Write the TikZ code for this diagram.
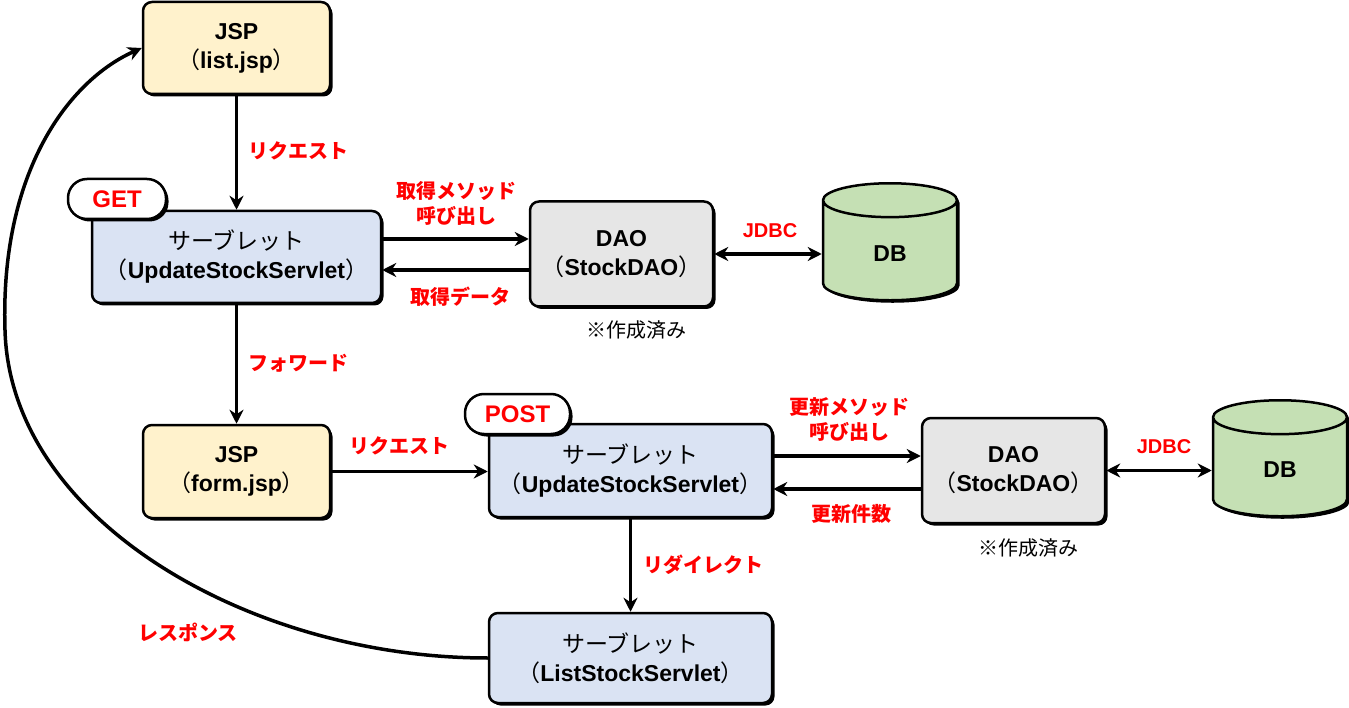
\documentclass[tikz,border=0pt]{standalone}
\usepackage{fontspec}
\setmainfont{Liberation Sans}
\newfontfamily\cjk{Noto Sans CJK JP}
\usetikzlibrary{shapes.geometric,shadows,arrows.meta}
\newcommand\jp[1]{{\cjk\mdseries #1}}
\definecolor{jspfill}{HTML}{FFF2CC}
\definecolor{svfill}{HTML}{DAE3F3}
\definecolor{daofill}{HTML}{E6E6E6}
\definecolor{dbfill}{HTML}{C5E0B4}
\definecolor{lblred}{HTML}{FF0000}
\tikzset{
  shad/.style={drop shadow={shadow xshift=2.5pt,shadow yshift=-2.5pt,fill=black,opacity=1}},
  box/.style={draw, line width=2.5pt, rounded corners=9pt, align=center, shad,
    font=\bfseries\fontsize{23}{29}\selectfont},
  jspbox/.style={box, fill=jspfill, minimum width=187pt, minimum height=92pt},
  svbox/.style={box, fill=svfill, minimum height=92pt},
  daobox/.style={box, fill=daofill, minimum width=183pt, minimum height=105pt},
  dbbox/.style={cylinder, shape border rotate=90, aspect=0.85, draw, line width=2.5pt, fill=dbfill, shad,
    minimum width=134pt, minimum height=117pt, font=\bfseries\fontsize{23}{28}\selectfont},
  pill/.style={draw, line width=2.5pt, fill=white, rounded corners=19pt, shad, text=lblred,
    minimum height=40pt, font=\bfseries\fontsize{24}{28}\selectfont},
  lab/.style={text=lblred, align=center, inner sep=0pt, font=\cjk\bfseries\fontsize{20}{25}\selectfont},
  latlab/.style={text=lblred, inner sep=0pt, font=\bfseries\fontsize{20}{24}\selectfont},
  note/.style={inner sep=0pt, font=\cjk\fontsize{20}{24}\selectfont},
  arr/.style={line width=3.5pt, -{Stealth[length=14pt,width=14pt,inset=4.5pt]}},
  dbl/.style={line width=3.5pt, {Stealth[length=14pt,width=14pt,inset=4.5pt]}-{Stealth[length=14pt,width=14pt,inset=4.5pt]}},
}
\begin{document}
\begin{tikzpicture}[x=1pt,y=-1pt]
\useasboundingbox (0,0) rectangle (1349,708);
% nodes
\node[jspbox] (listjsp) at (236.5,48) {JSP\\{\jp （}list.jsp{\jp ）}};
\node[svbox, minimum width=289pt] (getsv) at (236.5,257) {\jp{サーブレット}\\{\jp （}UpdateStockServlet{\jp ）}};
\node[pill, minimum width=98pt] (getpill) at (117,199) {GET};
\node[daobox] (dao1) at (621.5,254) {DAO\\{\jp （}StockDAO{\jp ）}};
\node[dbbox] (db1) at (890,253.5) {DB};
\node[jspbox, minimum height=93pt] (formjsp) at (236.5,471.5) {JSP\\{\jp （}form.jsp{\jp ）}};
\node[svbox, minimum width=283pt, minimum height=93pt] (postsv) at (630.5,470.5) {\jp{サーブレット}\\{\jp （}UpdateStockServlet{\jp ）}};
\node[pill, minimum width=105pt] (postpill) at (517.5,414) {POST};
\node[daobox] (dao2) at (1013.5,470.5) {DAO\\{\jp （}StockDAO{\jp ）}};
\node[dbbox, minimum height=116pt] (db2) at (1280,470) {DB};
\node[svbox, minimum width=283pt, minimum height=90pt] (listsv) at (630.5,658) {\jp{サーブレット}\\{\jp （}ListStockServlet{\jp ）}};
% connectors
\draw[arr] (listjsp.south) -- (getsv.north);
\path ([yshift=15pt]dao1.west) coordinate (g1) ([yshift=-16pt]dao1.west) coordinate (g2);
\draw[arr] (getsv.east |- g1) -- (g1);
\draw[arr] (g2) -- (getsv.east |- g2);
\draw[dbl] (dao1.east) -- (db1.west |- dao1.east);
\draw[arr] (getsv.south) -- (formjsp.north);
\draw[arr] (formjsp.east) -- (postsv.west |- formjsp.east);
\path ([yshift=14.5pt]dao2.west) coordinate (p1) ([yshift=-18.5pt]dao2.west) coordinate (p2);
\draw[arr] (postsv.east |- p1) -- (p1);
\draw[arr] (p2) -- (postsv.east |- p2);
\draw[dbl] (dao2.east) -- (db2.west |- dao2.east);
\draw[arr] (postsv.south) -- (listsv.north);
\draw[arr] (listsv.west) .. controls (250,658) and (10,520) .. (5,330)
  .. controls (0,170) and (70,80) .. (listjsp.west);
% labels
\node[lab] (l1) at (298,151) {リクエスト};
\node[lab] (l2) at (456,203) {取得メソッド\\呼び出し};
\node[lab] (l3) at (460,297) {取得データ};
\node[latlab] (l4) at (770,231) {JDBC};
\node[note] (n1) at (636,330) {※作成済み};
\node[lab] (l5) at (298,363) {フォワード};
\node[lab] (l6) at (399,446) {リクエスト};
\node[lab] (l7) at (849,419) {更新メソッド\\呼び出し};
\node[lab] (l8) at (851,514) {更新件数};
\node[latlab] (l9) at (1164,447) {JDBC};
\node[note] (n2) at (1028,548) {※作成済み};
\node[lab] (l10) at (703,565) {リダイレクト};
\node[lab] (l11) at (188,632) {レスポンス};
\end{tikzpicture}
\end{document}
